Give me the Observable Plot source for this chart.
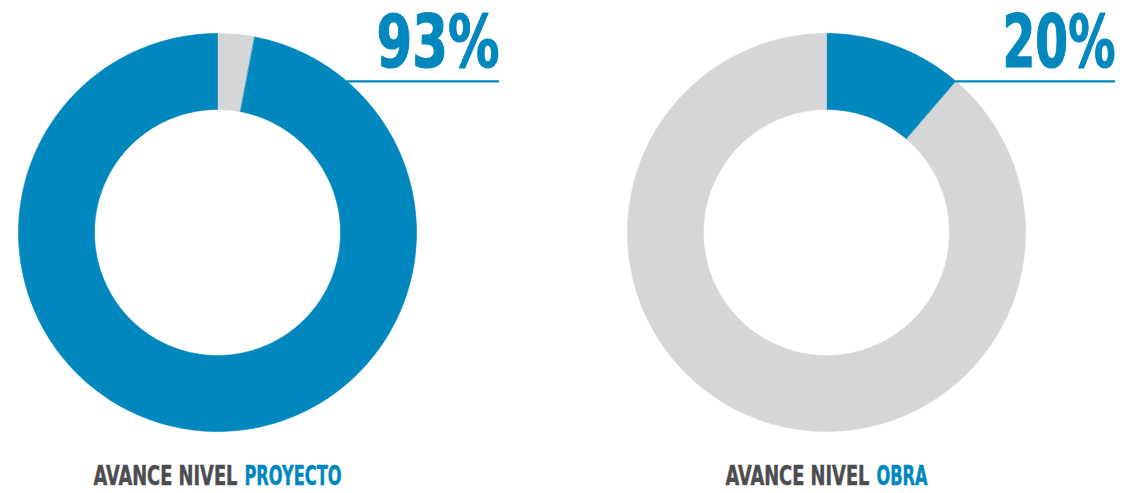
<!DOCTYPE html>
<html><head><meta charset="utf-8">
<script src="https://cdn.jsdelivr.net/npm/d3@7"></script>
<script src="https://cdn.jsdelivr.net/npm/@observablehq/plot@0.6"></script>
<style>html,body{margin:0;padding:0;background:#fff;overflow:hidden}</style>
</head><body><div id="chart"></div>
<script>
// ---- data ----
const levels = ["PROYECTO", "OBRA"];
const percentLabels = ["93%", "20%"];
const labelPrefix = "AVANCE NIVEL";
// slices clockwise from 12 o'clock; shares read from the drawn arcs
const sliceKeys = [["rest", "done"], ["done", "rest"]];
const sliceShares = [[0.03, 0.97], [0.113, 0.887]];

// ---- style / layout ----
const blue = "#0087BE", gray = "#D5D6D8", ink = "#4B4D4F";
const W = 1133, H = 493;
const centerX = [217, 826], centerY = 232, outerR = 199, innerR = 123;
const leaderAngle = 40.6;
const numberRight = [282, 289];
const numberWidth = [123, 113];
const prefixWidth = 144, levelWidth = [97, 51], captionGap = 7;
const font = "'Liberation Sans Narrow','DejaVu Sans Condensed','DejaVu Sans',sans-serif";

const rad = d => d * Math.PI / 180;
const slices = [];
levels.forEach((lvl, i) => {
  const cx = centerX[i];
  let a = 0;
  sliceKeys[i].forEach((k, j) => {
    const a0 = a, a1 = a + sliceShares[i][j] * 360; a = a1;
    const n = Math.max(2, Math.ceil(a1 - a0));
    const pts = [];
    for (let s = 0; s <= n; s++) { const t = rad(a0 + (a1 - a0) * s / n); pts.push([cx + outerR * Math.sin(t), centerY - outerR * Math.cos(t)]); }
    for (let s = n; s >= 0; s--) { const t = rad(a0 + (a1 - a0) * s / n); pts.push([cx + innerR * Math.sin(t), centerY - innerR * Math.cos(t)]); }
    pts.forEach(p => slices.push({id: lvl + "-" + k, key: k, x: p[0], y: p[1]}));
  });
});

const leaders = levels.map((lvl, i) => ({
  y: centerY - outerR * Math.cos(rad(leaderAngle)),
  x1: centerX[i] + outerR * Math.sin(rad(leaderAngle)),
  x2: centerX[i] + numberRight[i]
}));
const numbers = levels.map((lvl, i) => ({x: centerX[i] + numberRight[i], text: percentLabels[i], w: numberWidth[i]}));
const prefixes = levels.map((lvl, i) => {
  const start = centerX[i] - (prefixWidth + captionGap + levelWidth[i]) / 2;
  return {x: start, text: labelPrefix, w: prefixWidth};
});
const levelTexts = levels.map((lvl, i) => ({x: prefixes[i].x + prefixWidth + captionGap, text: lvl, w: levelWidth[i]}));

const textBase = {x: "x", text: "text", textAnchor: "start", lineAnchor: "bottom", fontWeight: "bold", fontFamily: font};
const svg = Plot.plot({
  width: W, height: H,
  margin: 0,
  x: {domain: [0, W], range: [0, W], axis: null},
  y: {domain: [0, H], range: [0, H], axis: null},
  color: {domain: ["done", "rest"], range: [blue, gray]},
  style: {background: "#fff"},
  marks: [
    Plot.line(slices, {x: "x", y: "y", z: "id", fill: "key", stroke: "key", strokeWidth: 0.6, curve: "linear-closed"}),
    Plot.ruleY(leaders, {y: "y", x1: "x1", x2: "x2", stroke: blue, strokeWidth: 2.2}),
    Plot.text(numbers, {...textBase, y: 66, textAnchor: "end", fontSize: 73, fill: blue, stroke: blue, strokeWidth: 1.2}),
    Plot.text(prefixes, {...textBase, y: 484, fontSize: 26, fill: ink, stroke: ink, strokeWidth: 0.5}),
    Plot.text(levelTexts, {...textBase, y: 484, fontSize: 26, fill: blue, stroke: blue, strokeWidth: 0.5})
  ]
});
document.getElementById("chart").append(svg);

// condense each text horizontally to the width of the narrow display face
const targets = [...numbers, ...prefixes, ...levelTexts];
svg.querySelectorAll("text").forEach(el => {
  const t = el.textContent;
  const tx = parseFloat((el.getAttribute("transform") || "").match(/translate\(([-\d.]+)/)?.[1]);
  const d = targets.find(o => o.text === t && Math.abs((numbers.includes(o) ? o.x : o.x) - tx) < 1);
  if (!d) return;
  const L = el.getComputedTextLength();
  if (L > 0) el.setAttribute("transform", el.getAttribute("transform") + ` scale(${d.w / L},1)`);
});
</script>
</body></html>
